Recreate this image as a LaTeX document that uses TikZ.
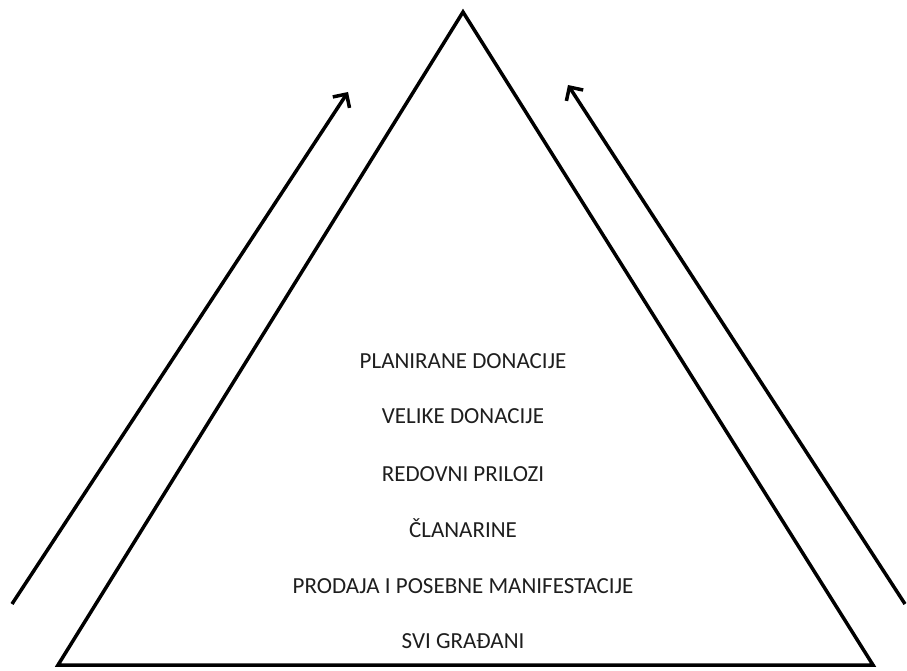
\documentclass[tikz,border=0pt]{standalone}
\usepackage{fontspec}
\setmainfont{Carlito}
\usetikzlibrary{arrows.meta}
\definecolor{txt}{HTML}{1E1E1E}
\tikzset{
  edge/.style={line width=3.5pt, line join=miter},
  arr/.style={line width=3.5pt, -{Straight Barb[length=10pt,width=20pt,line width=3.5pt]}},
  lbl/.style={font=\fontsize{23}{27}\selectfont, text=txt, anchor=base}
}
\begin{document}
\begin{tikzpicture}[x=1pt,y=-1pt]
\useasboundingbox (0,0) rectangle (907,671);
\coordinate (apex) at (463,12);
\coordinate (bl) at (58,665);
\coordinate (br) at (873,665);
\draw[edge] (bl) -- (apex) -- (br) -- cycle;
\coordinate (la) at (12,604);
\coordinate (lb) at (348,92);
\coordinate (ra) at (905,604);
\coordinate (rb) at (568,85);
\draw[arr] (la) -- (lb);
\draw[arr] (ra) -- (rb);
\node[lbl] (t1) at (463,368) {PLANIRANE DONACIJE};
\node[lbl] (t2) at (463,423) {VELIKE DONACIJE};
\node[lbl] (t3) at (463,481) {REDOVNI PRILOZI};
\node[lbl] (t4) at (463,537) {ČLANARINE};
\node[lbl] (t5) at (463,593) {PRODAJA I POSEBNE MANIFESTACIJE};
\node[lbl] (t6) at (463,648) {SVI GRAĐANI};
\end{tikzpicture}
\end{document}
